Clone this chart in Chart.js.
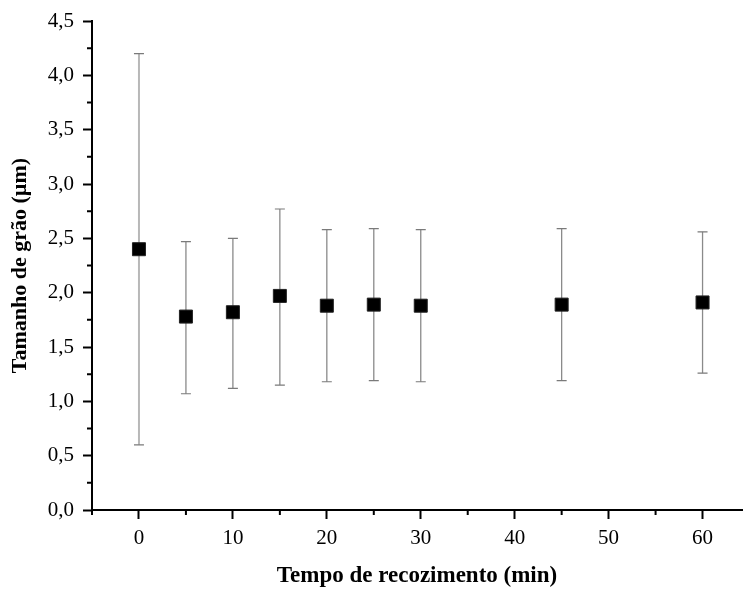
<!DOCTYPE html>
<html>
<head>
<meta charset="utf-8">
<script src="https://cdn.jsdelivr.net/npm/chart.js@4"></script>
<style>
  html, body { margin: 0; padding: 0; background: #fff; }
  #wrap { width: 743px; height: 592px; }
</style>
</head>
<body>
<div id="wrap"><canvas id="c" width="743" height="592"></canvas></div>
<script>
// Data
const times = [0, 5, 10, 15, 20, 25, 30, 45, 60];
const grainSize = [2.40, 1.78, 1.82, 1.97, 1.88, 1.89, 1.88, 1.89, 1.91];
const errLower = [0.60, 1.07, 1.12, 1.15, 1.18, 1.19, 1.18, 1.19, 1.26];
const errUpper = [4.20, 2.47, 2.50, 2.77, 2.58, 2.59, 2.58, 2.59, 2.56];
const xMajorTicks = [0, 10, 20, 30, 40, 50, 60];
const xMinorTicks = [-5, 5, 15, 25, 35, 45, 55];
const yMajorTicks = [0, 0.5, 1.0, 1.5, 2.0, 2.5, 3.0, 3.5, 4.0, 4.5];
const yMinorTicks = [0.25, 0.75, 1.25, 1.75, 2.25, 2.75, 3.25, 3.75, 4.25];
const xTitle = 'Tempo de recozimento (min)';
const yTitle = 'Tamanho de grão (µm)';

const FONT = "'Liberation Serif', 'Times New Roman', serif";

const errorBars = {
  id: 'errorBars',
  beforeDatasetsDraw(chart) {
    const ctx = chart.ctx;
    const xs = chart.scales.x, ys = chart.scales.y;
    ctx.save();
    times.forEach((t, i) => {
      const x = xs.getPixelForValue(t);
      const yl = ys.getPixelForValue(errLower[i]);
      const yh = ys.getPixelForValue(errUpper[i]);
      ctx.strokeStyle = i === 0 ? '#b8b8b8' : '#8a8a8a';
      ctx.lineWidth = i === 0 ? 2 : 1.3;
      ctx.beginPath();
      ctx.moveTo(x, yl); ctx.lineTo(x, yh);
      ctx.stroke();
      ctx.strokeStyle = '#7a7a7a';
      ctx.lineWidth = 1.2;
      ctx.beginPath();
      ctx.moveTo(x - 5, yl); ctx.lineTo(x + 5, yl);
      ctx.moveTo(x - 5, yh); ctx.lineTo(x + 5, yh);
      ctx.stroke();
    });
    ctx.restore();
  }
};

const minorTicks = {
  id: 'minorTicks',
  afterDraw(chart) {
    const ctx = chart.ctx;
    const xs = chart.scales.x, ys = chart.scales.y;
    const ca = chart.chartArea;
    ctx.save();
    ctx.strokeStyle = '#000';
    ctx.lineWidth = 2;
    ctx.beginPath();
    xMinorTicks.forEach(v => {
      const x = xs.getPixelForValue(v);
      ctx.moveTo(x, ca.bottom); ctx.lineTo(x, ca.bottom + 5);
    });
    yMinorTicks.forEach(v => {
      const y = ys.getPixelForValue(v);
      ctx.moveTo(ca.left, y); ctx.lineTo(ca.left - 5, y);
    });
    ctx.stroke();
    ctx.restore();
  }
};

new Chart(document.getElementById('c'), {
  type: 'scatter',
  data: {
    datasets: [{
      data: times.map((t, i) => ({ x: t, y: grainSize[i] })),
      pointStyle: 'rect',
      pointRadius: 9.2,
      pointHoverRadius: 9.2,
      backgroundColor: '#000',
      borderColor: '#222',
      borderWidth: 1
    }]
  },
  options: {
    responsive: false,
    animation: false,
    devicePixelRatio: 1,
    layout: { autoPadding: false, padding: { top: 21, right: 1, left: 0, bottom: 0 } },
    plugins: { legend: { display: false }, tooltip: { enabled: false } },
    scales: {
      x: {
        type: 'linear',
        min: -5,
        max: 64.2,
        afterBuildTicks: s => { s.ticks = xMajorTicks.map(v => ({ value: v })); },
        afterFit: s => { s.height = 82; s.paddingLeft = 0; s.paddingRight = 0; },
        grid: { drawOnChartArea: false, drawTicks: true, tickLength: 9, tickColor: '#000', tickWidth: 2 },
        border: { display: true, color: '#000', width: 2 },
        ticks: {
          color: '#000', padding: 7, maxRotation: 0, autoSkip: false,
          font: { family: FONT, size: 21 },
          callback: v => String(v)
        },
        title: {
          display: true, text: xTitle, color: '#000',
          font: { family: FONT, size: 23, weight: 'bold' },
          padding: { top: 0, bottom: 2 }
        }
      },
      y: {
        type: 'linear',
        min: 0,
        max: 4.5,
        afterBuildTicks: s => { s.ticks = yMajorTicks.map(v => ({ value: v })); },
        afterFit: s => { s.width = 92; s.paddingTop = 0; s.paddingBottom = 0; },
        grid: { drawOnChartArea: false, drawTicks: true, tickLength: 9, tickColor: '#000', tickWidth: 2 },
        border: { display: true, color: '#000', width: 2 },
        ticks: {
          color: '#000', padding: 9, autoSkip: false,
          font: { family: FONT, size: 21 },
          callback: v => Number(v).toFixed(1).replace('.', ',')
        },
        title: {
          display: true, text: yTitle, color: '#000',
          font: { family: FONT, size: 22, weight: 'bold' },
          padding: { top: 7, bottom: 0 }
        }
      }
    }
  },
  plugins: [errorBars, minorTicks]
});
</script>
</body>
</html>
